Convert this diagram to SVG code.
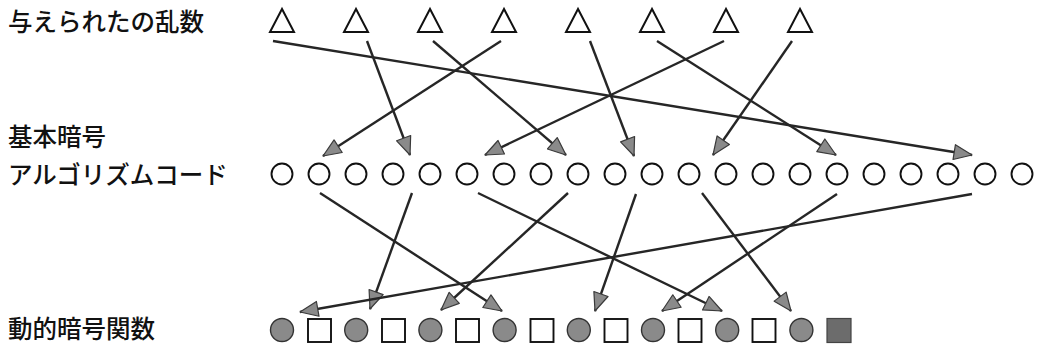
<svg xmlns="http://www.w3.org/2000/svg" width="1039" height="347" viewBox="0 0 1039 347">
  <style>
    .label { font-family: "Noto Sans CJK JP", "Noto Sans", sans-serif; font-size: 24.5px; font-weight: 500; fill: #111; }
    .tri { fill: #fff; stroke: #111; stroke-width: 2; stroke-linejoin: miter; }
    .code { fill: #fff; stroke: #111; stroke-width: 1.9; }
    .dot { fill: #8a8a8a; stroke: #333; stroke-width: 1.4; }
    .box { fill: #fff; stroke: #111; stroke-width: 1.9; }
    .box-dark { fill: #6c6c6c; stroke: #444; stroke-width: 1.2; }
    .link { fill: none; stroke: #262626; stroke-width: 2.4; marker-end: url(#head); }
  </style>
  <defs>
    <marker id="head" markerUnits="userSpaceOnUse" markerWidth="21" markerHeight="17" refX="19" refY="8.5" orient="auto" viewBox="0 0 21 17">
      <path d="M1,1 L19,8.5 L1,16 Z" fill="#8a8a8a" stroke="#3a3a3a" stroke-width="1.2" stroke-linejoin="round"/>
    </marker>
  </defs>
  <rect width="1039" height="347" fill="#fff"/>

  <!-- row labels -->
  <g id="label-random">
    <text class="label" x="8" y="31">与えられたの乱数</text>
  </g>
  <g id="label-code">
    <text class="label" x="8" y="146">基本暗号</text>
    <text class="label" x="8" y="184">アルゴリズムコード</text>
  </g>
  <g id="label-function">
    <text class="label" x="8" y="338">動的暗号関数</text>
  </g>

  <!-- given random numbers -->
  <g id="random-numbers">
    <polygon id="r1" class="tri" points="282,9 270,32 294,32"/>
    <polygon id="r2" class="tri" points="356,9 344,32 368,32"/>
    <polygon id="r3" class="tri" points="430,9 418,32 442,32"/>
    <polygon id="r4" class="tri" points="504,9 492,32 516,32"/>
    <polygon id="r5" class="tri" points="578,9 566,32 590,32"/>
    <polygon id="r6" class="tri" points="652,9 640,32 664,32"/>
    <polygon id="r7" class="tri" points="726,9 714,32 738,32"/>
    <polygon id="r8" class="tri" points="800,9 788,32 812,32"/>
  </g>

  <!-- basic cipher algorithm codes -->
  <g id="algorithm-codes">
    <circle id="c1" class="code" cx="282" cy="174" r="10.5"/>
    <circle id="c2" class="code" cx="319" cy="174" r="10.5"/>
    <circle id="c3" class="code" cx="356" cy="174" r="10.5"/>
    <circle id="c4" class="code" cx="393" cy="174" r="10.5"/>
    <circle id="c5" class="code" cx="430" cy="174" r="10.5"/>
    <circle id="c6" class="code" cx="467" cy="174" r="10.5"/>
    <circle id="c7" class="code" cx="504" cy="174" r="10.5"/>
    <circle id="c8" class="code" cx="541" cy="174" r="10.5"/>
    <circle id="c9" class="code" cx="578" cy="174" r="10.5"/>
    <circle id="c10" class="code" cx="615" cy="174" r="10.5"/>
    <circle id="c11" class="code" cx="652" cy="174" r="10.5"/>
    <circle id="c12" class="code" cx="689" cy="174" r="10.5"/>
    <circle id="c13" class="code" cx="726" cy="174" r="10.5"/>
    <circle id="c14" class="code" cx="763" cy="174" r="10.5"/>
    <circle id="c15" class="code" cx="800" cy="174" r="10.5"/>
    <circle id="c16" class="code" cx="837" cy="174" r="10.5"/>
    <circle id="c17" class="code" cx="874" cy="174" r="10.5"/>
    <circle id="c18" class="code" cx="911" cy="174" r="10.5"/>
    <circle id="c19" class="code" cx="948" cy="174" r="10.5"/>
    <circle id="c20" class="code" cx="985" cy="174" r="10.5"/>
    <circle id="c21" class="code" cx="1022" cy="174" r="10.5"/>
  </g>

  <!-- dynamic cipher function -->
  <g id="dynamic-function">
    <circle id="f1" class="dot" cx="282" cy="330" r="11.5"/>
    <rect id="f2" class="box" x="308" y="319" width="23" height="23"/>
    <circle id="f3" class="dot" cx="356.2" cy="330" r="11.5"/>
    <rect id="f4" class="box" x="382" y="319" width="23" height="23"/>
    <circle id="f5" class="dot" cx="430.4" cy="330" r="11.5"/>
    <rect id="f6" class="box" x="456" y="319" width="23" height="23"/>
    <circle id="f7" class="dot" cx="504.6" cy="330" r="11.5"/>
    <rect id="f8" class="box" x="530.5" y="319" width="23" height="23"/>
    <circle id="f9" class="dot" cx="578.8" cy="330" r="11.5"/>
    <rect id="f10" class="box" x="604.5" y="319" width="23" height="23"/>
    <circle id="f11" class="dot" cx="653" cy="330" r="11.5"/>
    <rect id="f12" class="box" x="678.5" y="319" width="23" height="23"/>
    <circle id="f13" class="dot" cx="727.2" cy="330" r="11.5"/>
    <rect id="f14" class="box" x="752.5" y="319" width="23" height="23"/>
    <circle id="f15" class="dot" cx="801.4" cy="330" r="11.5"/>
    <rect id="f16" class="box-dark" x="827" y="318.5" width="24" height="24"/>
  </g>

  <!-- connectors -->
  <g id="connectors">
    <line class="link" x1="273" y1="41" x2="972" y2="155"/>
    <line class="link" x1="367" y1="41" x2="410" y2="155"/>
    <line class="link" x1="433" y1="41" x2="566" y2="155"/>
    <line class="link" x1="501" y1="41" x2="323" y2="156"/>
    <line class="link" x1="590" y1="41" x2="634" y2="156"/>
    <line class="link" x1="657" y1="41" x2="836" y2="155"/>
    <line class="link" x1="724" y1="41" x2="485" y2="155"/>
    <line class="link" x1="792" y1="41" x2="713" y2="155"/>

    <line class="link" x1="320" y1="193" x2="502" y2="311"/>
    <line class="link" x1="412" y1="193" x2="370" y2="309"/>
    <line class="link" x1="478" y1="193" x2="722" y2="311"/>
    <line class="link" x1="568" y1="193" x2="441" y2="310"/>
    <line class="link" x1="636" y1="194" x2="595" y2="311"/>
    <line class="link" x1="702" y1="193" x2="791" y2="311"/>
    <line class="link" x1="837" y1="194" x2="662" y2="311"/>
    <line class="link" x1="972" y1="194" x2="300" y2="312"/>
  </g>
</svg>
